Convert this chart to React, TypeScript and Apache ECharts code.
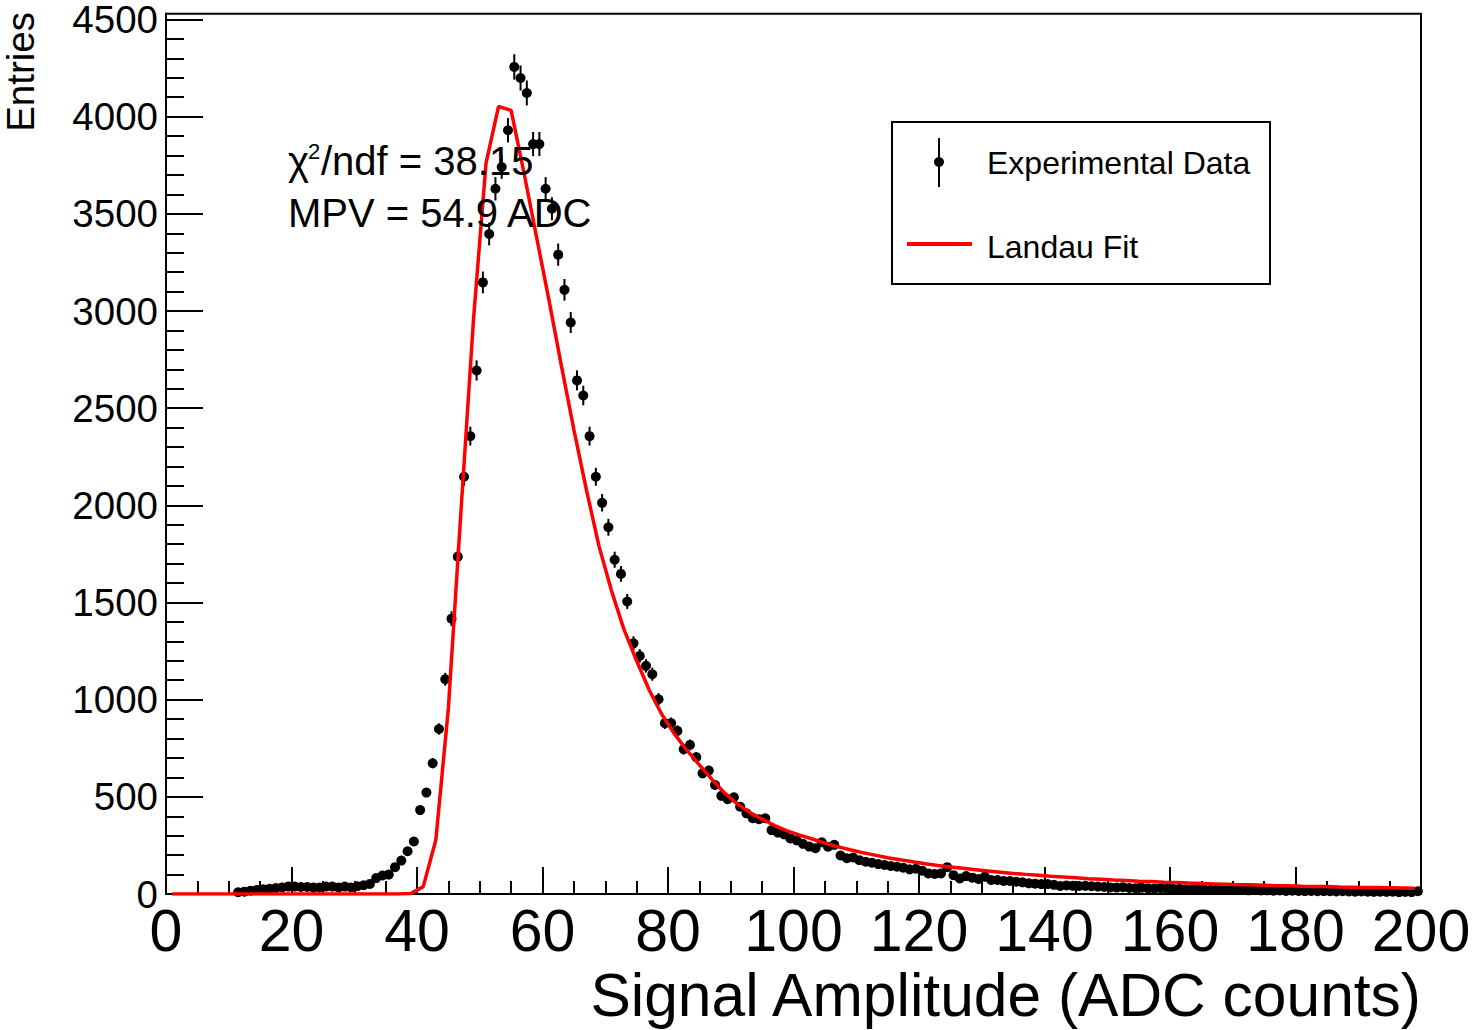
import { useEffect, useRef } from "react";
import * as echarts from "echarts";

// Histogram contents, bins of width 1 from 0 to 200 (bin i covers [i, i+1))
const counts: number[] = [
  0, 0, 0, 0, 0, 0, 0, 0, 0, 0,
  0, 9, 12, 17, 21, 24, 27, 31, 34, 38,
  38, 36, 36, 33, 34, 38, 38, 33, 38, 34,
  40, 45, 52, 82, 95, 100, 138, 172, 220, 270,
  432, 522, 673, 849, 1105, 1417, 1736, 2147, 2356, 2694,
  3147, 3396, 3629, 3741, 3930, 4256, 4199, 4122, 3859, 3859,
  3629, 3526, 3290, 3109, 2941, 2643, 2565, 2356, 2147, 2013,
  1887, 1720, 1647, 1505, 1290, 1225, 1174, 1131, 1002, 879,
  879, 839, 745, 767, 704, 621, 635, 561, 505, 488,
  498, 449, 415, 390, 385, 390, 329, 316, 307, 286,
  276, 258, 244, 236, 266, 243, 253, 198, 184, 188,
  174, 166, 161, 154, 149, 144, 140, 135, 127, 130,
  120, 106, 103, 106, 138, 97, 80, 92, 84, 77,
  89, 72, 72, 67, 67, 63, 60, 55, 53, 51,
  51, 47, 41, 44, 42, 41, 42, 40, 38, 36,
  34, 33, 35, 31, 30, 32, 29, 28, 30, 27,
  26, 27, 25, 24, 26, 23, 22, 24, 21, 22,
  20, 21, 19, 20, 18, 19, 17, 18, 16, 17,
  16, 15, 16, 14, 15, 14, 13, 14, 13, 12,
  13, 12, 11, 12, 11, 12, 10, 11, 10, 14,
];

// Landau fit curve, sampled points
const fitX: number[] = [
  1, 3, 5, 7, 9, 11, 13, 15, 17, 19,
  21, 23, 25, 27, 29, 31, 33, 35, 37, 39,
  41, 43, 45, 47, 49, 51, 53, 55, 57, 59,
  61, 63, 65, 67, 69, 71, 73, 75, 77, 79,
  81, 83, 85, 87, 89, 91, 93, 95, 97, 99,
  101, 103, 105, 107, 109, 111, 113, 115, 117, 119,
  121, 123, 125, 127, 129, 131, 133, 135, 137, 139,
  141, 143, 145, 147, 149, 151, 153, 155, 157, 159,
  161, 163, 165, 167, 169, 171, 173, 175, 177, 179,
  181, 183, 185, 187, 189, 191, 193, 195, 197, 199,
];
const fitY: number[] = [
  0, 0, 0, 0, 0, 0, 0, 0, 0, 0,
  0, 0, 0, 0, 0, 0, 0, 0, 0, 2,
  38, 278, 955, 1966, 2955, 3761, 4053, 4032, 3719, 3389,
  3061, 2720, 2390, 2080, 1790, 1560, 1360, 1200, 1050, 925,
  825, 740, 665, 590, 520, 465, 420, 385, 352, 325,
  303, 283, 262, 244, 228, 213, 200, 187, 176, 166,
  156, 147, 139, 132, 125, 118, 112, 106, 101, 96,
  91, 87, 83, 79, 76, 72, 69, 66, 64, 61,
  59, 56, 54, 52, 50, 48, 47, 45, 43, 42,
  40, 39, 38, 36, 35, 34, 33, 32, 31, 30,
];

const yMajorTicks: number[] = [0, 500, 1000, 1500, 2000, 2500, 3000, 3500, 4000, 4500];
const yMinorTicks: number[] = [
  100, 200, 300, 400, 600, 700, 800, 900, 1100, 1200, 1300, 1400,
  1600, 1700, 1800, 1900, 2100, 2200, 2300, 2400, 2600, 2700, 2800, 2900,
  3100, 3200, 3300, 3400, 3600, 3700, 3800, 3900, 4100, 4200, 4300, 4400,
];

const xTitle = "Signal Amplitude (ADC counts)";
const yTitle = "Entries";
const chiSymbol = "\u03c7";
const chiExp = "2";
const chiText = "/ndf = 38.15";
const mpvText = "MPV = 54.9 ADC";
const legendData = "Experimental Data";
const legendFit = "Landau Fit";

const FONT = "'Liberation Sans', Arial, Helvetica, sans-serif";

function txt(x: number, y: number, text: string, size: number, align: string, extra: any = {}) {
  return {
    type: "text",
    x,
    y,
    z: 100,
    silent: true,
    ...extra,
    style: {
      text,
      fill: "#000",
      fontSize: size,
      fontFamily: FONT,
      align,
      textAlign: align,
      verticalAlign: "middle",
      textVerticalAlign: "middle",
    },
  };
}

export default function App() {
  const ref = useRef<HTMLDivElement>(null);

  useEffect(() => {
    const chart = echarts.init(ref.current!, null, { renderer: "svg" });

    const points = counts
      .map((c, i) => [i + 0.5, c, Math.sqrt(c)])
      .filter((p) => p[1] > 0);
    const fitData = fitX.map((x, i) => [x, fitY[i]]);

    chart.setOption({
      animation: false,
      backgroundColor: "#fff",
      grid: {
        left: 166,
        right: 53,
        top: 13,
        bottom: 136,
        show: true,
        borderColor: "#000",
        borderWidth: 2,
        backgroundColor: "transparent",
      },
      xAxis: {
        type: "value",
        min: 0,
        max: 200,
        interval: 20,
        axisLine: { show: true, lineStyle: { color: "#000", width: 2 } },
        axisTick: { show: true, inside: true, length: 27, lineStyle: { color: "#000", width: 2 } },
        minorTick: { show: true, splitNumber: 4, length: 13, lineStyle: { color: "#000", width: 2 } },
        splitLine: { show: false },
        minorSplitLine: { show: false },
        axisLabel: {
          color: "#000",
          fontSize: 59,
          lineHeight: 48,
          fontFamily: FONT,
          margin: 13,
          showMinLabel: true,
          showMaxLabel: true,
          hideOverlap: false,
          formatter: (v: number) => String(v),
        },
      },
      yAxis: [
        {
          type: "value",
          min: 0,
          max: 4530,
          position: "left",
          axisLine: { show: true, lineStyle: { color: "#000", width: 2 } },
          axisTick: {
            show: true,
            inside: true,
            length: 37,
            customValues: yMajorTicks,
            lineStyle: { color: "#000", width: 2 },
          },
          splitLine: { show: false },
          axisLabel: {
            color: "#000",
            fontSize: 38.5,
            lineHeight: 24,
            fontFamily: FONT,
            margin: 8,
            customValues: yMajorTicks,
            hideOverlap: false,
            formatter: (v: number) => String(v),
          },
        },
        {
          type: "value",
          min: 0,
          max: 4530,
          position: "left",
          offset: 0,
          axisLine: { show: false },
          axisLabel: { show: false },
          splitLine: { show: false },
          axisTick: {
            show: true,
            inside: true,
            length: 18,
            customValues: yMinorTicks,
            lineStyle: { color: "#000", width: 2 },
          },
        },
      ],
      series: [
        {
          type: "custom",
          name: "errors",
          data: points,
          encode: { x: 0, y: 1 },
          silent: true,
          z: 2,
          renderItem: (_params: any, api: any) => {
            const x = api.value(0);
            const y = api.value(1);
            const e = api.value(2);
            const top = api.coord([x, y + e]);
            const bot = api.coord([x, y - e]);
            return {
              type: "line",
              shape: { x1: top[0], y1: top[1], x2: bot[0], y2: bot[1] },
              style: { stroke: "#000", lineWidth: 2 },
            };
          },
        },
        {
          type: "scatter",
          name: legendData,
          data: points.map((p) => [p[0], p[1]]),
          symbol: "circle",
          symbolSize: 10,
          itemStyle: { color: "#000", opacity: 1 },
          silent: true,
          z: 3,
        },
        {
          type: "line",
          name: legendFit,
          data: fitData,
          showSymbol: false,
          symbol: "none",
          smooth: false,
          lineStyle: { color: "#ff0000", width: 3.5 },
          silent: true,
          z: 4,
        },
      ],
      graphic: [
        // axis titles
        txt(1421, 995, xTitle, 60.5, "right"),
        txt(20, 12, yTitle, 38.5, "right", { rotation: Math.PI / 2 }),
        // fit annotations
        txt(288, 161, chiSymbol, 40, "left"),
        txt(308, 151, chiExp, 22, "left"),
        txt(321, 161, chiText, 40, "left"),
        txt(288, 213, mpvText, 40, "left"),
        // legend box
        {
          type: "rect",
          z: 90,
          silent: true,
          shape: { x: 892, y: 122, width: 378, height: 162 },
          style: { fill: "#fff", stroke: "#000", lineWidth: 2 },
        },
        {
          type: "line",
          z: 95,
          silent: true,
          shape: { x1: 939, y1: 138, x2: 939, y2: 187 },
          style: { stroke: "#000", lineWidth: 2 },
        },
        {
          type: "circle",
          z: 96,
          silent: true,
          shape: { cx: 939, cy: 162, r: 5 },
          style: { fill: "#000" },
        },
        {
          type: "line",
          z: 95,
          silent: true,
          shape: { x1: 907, y1: 244, x2: 972, y2: 244 },
          style: { stroke: "#ff0000", lineWidth: 4 },
        },
        txt(987, 163, legendData, 32, "left"),
        txt(987, 247, legendFit, 32, "left"),
      ],
    });

    return () => chart.dispose();
  }, []);

  return (
    <div
      ref={ref}
      style={{ position: "fixed", left: 0, top: 0, width: 1474, height: 1030, background: "#fff" }}
    />
  );
}
